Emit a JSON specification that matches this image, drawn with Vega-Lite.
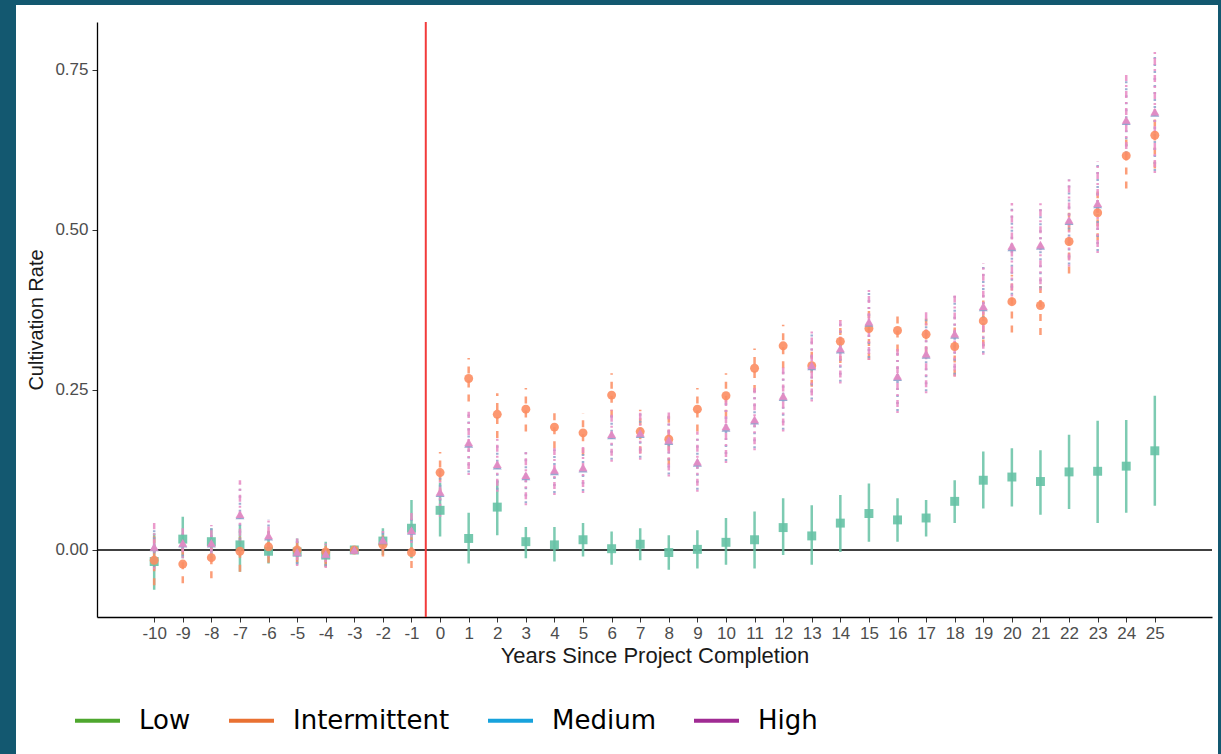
{
  "$schema": "https://vega.github.io/schema/vega-lite/v6.json",
  "width": 1202,
  "height": 749,
  "autosize": {"type": "none"},
  "padding": {"left": 16, "top": 5, "right": 3, "bottom": 0},
  "background": "#135870",
  "config": {
    "view": {"fill": "white", "stroke": null},
    "axis": {"grid": false, "domainColor": "black", "domainWidth": 1.3, "tickColor": "#333333", "tickSize": 5, "labelFont": "Liberation Sans", "labelFontSize": 17, "labelColor": "#4d4d4d", "titleFont": "Liberation Sans", "titleFontWeight": "normal", "titleColor": "#1a1a1a", "labelOverlap": false, "labelFlush": false},
    "axisX": {"labelOverlap": false},
    "axisQuantitative": {"labelOverlap": false},
    "legend": {
      "orient": "none", "legendX": 57, "legendY": 691, "direction": "horizontal", "title": null,
      "symbolType": "stroke", "symbolSize": 2025, "symbolStrokeWidth": 4, "symbolOpacity": 1,
      "labelFont": "DejaVu Sans", "labelFontSize": 26, "labelColor": "black", "labelOffset": 17, "columnPadding": 30
    }
  },
  "datasets": {
    "est": [
      {"year":-10,"group":"Low","est":-0.018,"lo":-0.062,"hi":0.026},
      {"year":-9,"group":"Low","est":0.017,"lo":-0.013,"hi":0.052},
      {"year":-8,"group":"Low","est":0.013,"lo":-0.013,"hi":0.034},
      {"year":-7,"group":"Low","est":0.008,"lo":-0.034,"hi":0.039},
      {"year":-6,"group":"Low","est":-0.002,"lo":-0.021,"hi":0.018},
      {"year":-5,"group":"Low","est":-0.003,"lo":-0.023,"hi":0.018},
      {"year":-4,"group":"Low","est":-0.008,"lo":-0.026,"hi":0.013},
      {"year":-3,"group":"Low","est":0.0,"lo":-0.005,"hi":0.005},
      {"year":-2,"group":"Low","est":0.014,"lo":-0.008,"hi":0.034},
      {"year":-1,"group":"Low","est":0.034,"lo":-0.013,"hi":0.078},
      {"year":0,"group":"Low","est":0.062,"lo":0.021,"hi":0.105},
      {"year":1,"group":"Low","est":0.018,"lo":-0.021,"hi":0.058},
      {"year":2,"group":"Low","est":0.067,"lo":0.023,"hi":0.109},
      {"year":3,"group":"Low","est":0.013,"lo":-0.013,"hi":0.036},
      {"year":4,"group":"Low","est":0.008,"lo":-0.018,"hi":0.036},
      {"year":5,"group":"Low","est":0.016,"lo":-0.01,"hi":0.042},
      {"year":6,"group":"Low","est":0.002,"lo":-0.023,"hi":0.029},
      {"year":7,"group":"Low","est":0.009,"lo":-0.016,"hi":0.034},
      {"year":8,"group":"Low","est":-0.004,"lo":-0.031,"hi":0.023},
      {"year":9,"group":"Low","est":0.001,"lo":-0.029,"hi":0.031},
      {"year":10,"group":"Low","est":0.012,"lo":-0.023,"hi":0.05},
      {"year":11,"group":"Low","est":0.016,"lo":-0.029,"hi":0.06},
      {"year":12,"group":"Low","est":0.035,"lo":-0.008,"hi":0.081},
      {"year":13,"group":"Low","est":0.022,"lo":-0.023,"hi":0.07},
      {"year":14,"group":"Low","est":0.042,"lo":-0.003,"hi":0.086},
      {"year":15,"group":"Low","est":0.057,"lo":0.013,"hi":0.104},
      {"year":16,"group":"Low","est":0.047,"lo":0.013,"hi":0.081},
      {"year":17,"group":"Low","est":0.05,"lo":0.021,"hi":0.078},
      {"year":18,"group":"Low","est":0.076,"lo":0.042,"hi":0.109},
      {"year":19,"group":"Low","est":0.109,"lo":0.065,"hi":0.154},
      {"year":20,"group":"Low","est":0.114,"lo":0.068,"hi":0.159},
      {"year":21,"group":"Low","est":0.107,"lo":0.055,"hi":0.156},
      {"year":22,"group":"Low","est":0.122,"lo":0.064,"hi":0.18},
      {"year":23,"group":"Low","est":0.123,"lo":0.042,"hi":0.202},
      {"year":24,"group":"Low","est":0.131,"lo":0.058,"hi":0.203},
      {"year":25,"group":"Low","est":0.155,"lo":0.069,"hi":0.241},
      {"year":-10,"group":"Intermittent","est":-0.016,"lo":-0.055,"hi":0.022},
      {"year":-9,"group":"Intermittent","est":-0.022,"lo":-0.052,"hi":0.008},
      {"year":-8,"group":"Intermittent","est":-0.012,"lo":-0.044,"hi":0.018},
      {"year":-7,"group":"Intermittent","est":-0.002,"lo":-0.034,"hi":0.031},
      {"year":-6,"group":"Intermittent","est":0.005,"lo":-0.02,"hi":0.03},
      {"year":-5,"group":"Intermittent","est":0.0,"lo":-0.02,"hi":0.02},
      {"year":-4,"group":"Intermittent","est":-0.003,"lo":-0.026,"hi":0.013},
      {"year":-3,"group":"Intermittent","est":0.0,"lo":-0.004,"hi":0.004},
      {"year":-2,"group":"Intermittent","est":0.008,"lo":-0.01,"hi":0.025},
      {"year":-1,"group":"Intermittent","est":-0.004,"lo":-0.028,"hi":0.02},
      {"year":0,"group":"Intermittent","est":0.121,"lo":0.085,"hi":0.153},
      {"year":1,"group":"Intermittent","est":0.268,"lo":0.232,"hi":0.3},
      {"year":2,"group":"Intermittent","est":0.212,"lo":0.175,"hi":0.245},
      {"year":3,"group":"Intermittent","est":0.22,"lo":0.185,"hi":0.253},
      {"year":4,"group":"Intermittent","est":0.192,"lo":0.159,"hi":0.224},
      {"year":5,"group":"Intermittent","est":0.183,"lo":0.148,"hi":0.214},
      {"year":6,"group":"Intermittent","est":0.242,"lo":0.208,"hi":0.276},
      {"year":7,"group":"Intermittent","est":0.185,"lo":0.151,"hi":0.219},
      {"year":8,"group":"Intermittent","est":0.173,"lo":0.133,"hi":0.216},
      {"year":9,"group":"Intermittent","est":0.22,"lo":0.185,"hi":0.253},
      {"year":10,"group":"Intermittent","est":0.241,"lo":0.208,"hi":0.276},
      {"year":11,"group":"Intermittent","est":0.284,"lo":0.247,"hi":0.315},
      {"year":12,"group":"Intermittent","est":0.319,"lo":0.284,"hi":0.352},
      {"year":13,"group":"Intermittent","est":0.288,"lo":0.255,"hi":0.32},
      {"year":14,"group":"Intermittent","est":0.326,"lo":0.292,"hi":0.359},
      {"year":15,"group":"Intermittent","est":0.346,"lo":0.297,"hi":0.378},
      {"year":16,"group":"Intermittent","est":0.343,"lo":0.31,"hi":0.372},
      {"year":17,"group":"Intermittent","est":0.337,"lo":0.307,"hi":0.37},
      {"year":18,"group":"Intermittent","est":0.318,"lo":0.271,"hi":0.352},
      {"year":19,"group":"Intermittent","est":0.358,"lo":0.318,"hi":0.39},
      {"year":20,"group":"Intermittent","est":0.388,"lo":0.34,"hi":0.43},
      {"year":21,"group":"Intermittent","est":0.382,"lo":0.336,"hi":0.42},
      {"year":22,"group":"Intermittent","est":0.482,"lo":0.432,"hi":0.527},
      {"year":23,"group":"Intermittent","est":0.527,"lo":0.484,"hi":0.56},
      {"year":24,"group":"Intermittent","est":0.616,"lo":0.565,"hi":0.646},
      {"year":25,"group":"Intermittent","est":0.648,"lo":0.596,"hi":0.677},
      {"year":-10,"group":"Medium","est":0.004,"lo":-0.027,"hi":0.038},
      {"year":-9,"group":"Medium","est":0.01,"lo":-0.01,"hi":0.033},
      {"year":-8,"group":"Medium","est":0.01,"lo":-0.013,"hi":0.036},
      {"year":-7,"group":"Medium","est":0.054,"lo":0.016,"hi":0.104},
      {"year":-6,"group":"Medium","est":0.021,"lo":-0.007,"hi":0.048},
      {"year":-5,"group":"Medium","est":-0.004,"lo":-0.022,"hi":0.015},
      {"year":-4,"group":"Medium","est":-0.007,"lo":-0.025,"hi":0.008},
      {"year":-3,"group":"Medium","est":0.0,"lo":-0.004,"hi":0.004},
      {"year":-2,"group":"Medium","est":0.015,"lo":0.002,"hi":0.028},
      {"year":-1,"group":"Medium","est":0.03,"lo":0.013,"hi":0.056},
      {"year":0,"group":"Medium","est":0.089,"lo":0.055,"hi":0.126},
      {"year":1,"group":"Medium","est":0.166,"lo":0.121,"hi":0.212},
      {"year":2,"group":"Medium","est":0.132,"lo":0.094,"hi":0.171},
      {"year":3,"group":"Medium","est":0.115,"lo":0.073,"hi":0.155},
      {"year":4,"group":"Medium","est":0.123,"lo":0.089,"hi":0.157},
      {"year":5,"group":"Medium","est":0.127,"lo":0.092,"hi":0.158},
      {"year":6,"group":"Medium","est":0.179,"lo":0.141,"hi":0.215},
      {"year":7,"group":"Medium","est":0.181,"lo":0.144,"hi":0.215},
      {"year":8,"group":"Medium","est":0.17,"lo":0.118,"hi":0.212},
      {"year":9,"group":"Medium","est":0.136,"lo":0.094,"hi":0.181},
      {"year":10,"group":"Medium","est":0.191,"lo":0.139,"hi":0.236},
      {"year":11,"group":"Medium","est":0.202,"lo":0.159,"hi":0.249},
      {"year":12,"group":"Medium","est":0.239,"lo":0.188,"hi":0.285},
      {"year":13,"group":"Medium","est":0.287,"lo":0.235,"hi":0.34},
      {"year":14,"group":"Medium","est":0.313,"lo":0.263,"hi":0.355},
      {"year":15,"group":"Medium","est":0.355,"lo":0.3,"hi":0.407},
      {"year":16,"group":"Medium","est":0.27,"lo":0.217,"hi":0.311},
      {"year":17,"group":"Medium","est":0.305,"lo":0.248,"hi":0.368},
      {"year":18,"group":"Medium","est":0.336,"lo":0.274,"hi":0.397},
      {"year":19,"group":"Medium","est":0.379,"lo":0.308,"hi":0.444},
      {"year":20,"group":"Medium","est":0.473,"lo":0.399,"hi":0.538},
      {"year":21,"group":"Medium","est":0.475,"lo":0.409,"hi":0.54},
      {"year":22,"group":"Medium","est":0.514,"lo":0.446,"hi":0.579},
      {"year":23,"group":"Medium","est":0.54,"lo":0.467,"hi":0.603},
      {"year":24,"group":"Medium","est":0.67,"lo":0.62,"hi":0.738},
      {"year":25,"group":"Medium","est":0.683,"lo":0.592,"hi":0.777},
      {"year":-10,"group":"High","est":0.005,"lo":-0.03,"hi":0.042},
      {"year":-9,"group":"High","est":0.011,"lo":-0.013,"hi":0.036},
      {"year":-8,"group":"High","est":0.011,"lo":-0.016,"hi":0.039},
      {"year":-7,"group":"High","est":0.056,"lo":0.013,"hi":0.109},
      {"year":-6,"group":"High","est":0.023,"lo":-0.01,"hi":0.052},
      {"year":-5,"group":"High","est":-0.003,"lo":-0.025,"hi":0.018},
      {"year":-4,"group":"High","est":-0.006,"lo":-0.028,"hi":0.01},
      {"year":-3,"group":"High","est":0.0,"lo":-0.005,"hi":0.005},
      {"year":-2,"group":"High","est":0.016,"lo":0.0,"hi":0.03},
      {"year":-1,"group":"High","est":0.031,"lo":0.011,"hi":0.06},
      {"year":0,"group":"High","est":0.091,"lo":0.052,"hi":0.13},
      {"year":1,"group":"High","est":0.168,"lo":0.117,"hi":0.216},
      {"year":2,"group":"High","est":0.134,"lo":0.091,"hi":0.175},
      {"year":3,"group":"High","est":0.117,"lo":0.07,"hi":0.159},
      {"year":4,"group":"High","est":0.125,"lo":0.086,"hi":0.161},
      {"year":5,"group":"High","est":0.129,"lo":0.089,"hi":0.161},
      {"year":6,"group":"High","est":0.181,"lo":0.138,"hi":0.219},
      {"year":7,"group":"High","est":0.183,"lo":0.141,"hi":0.219},
      {"year":8,"group":"High","est":0.172,"lo":0.115,"hi":0.216},
      {"year":9,"group":"High","est":0.138,"lo":0.091,"hi":0.185},
      {"year":10,"group":"High","est":0.193,"lo":0.136,"hi":0.24},
      {"year":11,"group":"High","est":0.204,"lo":0.156,"hi":0.253},
      {"year":12,"group":"High","est":0.241,"lo":0.185,"hi":0.289},
      {"year":13,"group":"High","est":0.289,"lo":0.232,"hi":0.344},
      {"year":14,"group":"High","est":0.315,"lo":0.26,"hi":0.359},
      {"year":15,"group":"High","est":0.357,"lo":0.297,"hi":0.411},
      {"year":16,"group":"High","est":0.272,"lo":0.214,"hi":0.315},
      {"year":17,"group":"High","est":0.307,"lo":0.245,"hi":0.372},
      {"year":18,"group":"High","est":0.338,"lo":0.271,"hi":0.401},
      {"year":19,"group":"High","est":0.381,"lo":0.305,"hi":0.448},
      {"year":20,"group":"High","est":0.475,"lo":0.396,"hi":0.542},
      {"year":21,"group":"High","est":0.477,"lo":0.406,"hi":0.544},
      {"year":22,"group":"High","est":0.516,"lo":0.443,"hi":0.583},
      {"year":23,"group":"High","est":0.542,"lo":0.464,"hi":0.607},
      {"year":24,"group":"High","est":0.672,"lo":0.617,"hi":0.742},
      {"year":25,"group":"High","est":0.685,"lo":0.589,"hi":0.781}
    ]
  },
  "layer": [
    {
      "data": {"values": [{}]},
      "mark": {"type": "rule", "color": "black", "strokeWidth": 1.3},
      "encoding": {
        "y": {"datum": 0, "type": "quantitative"},
        "x": {"datum": -12, "type": "quantitative"},
        "x2": {"datum": 27}
      }
    },
    {
      "data": {"values": [{}]},
      "mark": {"type": "rule", "color": "#f23b3b", "strokeWidth": 2},
      "encoding": {
        "x": {"datum": -0.5, "type": "quantitative"},
        "y": {"datum": -0.1047, "type": "quantitative"},
        "y2": {"datum": 0.825}
      }
    },
    {
      "data": {"name": "est"},
      "encoding": {
        "x": {"field": "year", "type": "quantitative", "title": "Years Since Project Completion",
              "scale": {"domain": [-12, 27], "range": [81, 1196], "nice": false, "zero": false},
              "axis": {"values": [-10,-9,-8,-7,-6,-5,-4,-3,-2,-1,0,1,2,3,4,5,6,7,8,9,10,11,12,13,14,15,16,17,18,19,20,21,22,23,24,25],
                       "tickCount": 36, "labelExpr": "replace(datum.label, '\u2212', '-')", "labelOverlap": false, "labelFlush": false, "labelBound": false,
                       "offset": -137, "titleFontSize": 22, "titlePadding": 4, "labelPadding": 3}},
        "xOffset": {"field": "group", "type": "nominal",
                    "scale": {"type": "point", "padding": 0, "domain": ["Low", "Intermittent", "Medium", "High"], "range": [-3.5, 3.5]}}
      },
      "layer": [
        {
          "mark": {"type": "rule", "strokeWidth": 2.5, "opacity": 0.85},
          "encoding": {
            "y": {"field": "lo", "type": "quantitative", "title": "Cultivation Rate",
                  "scale": {"domain": [-0.1047, 0.825], "range": [612, 17], "nice": false, "zero": false},
                  "axis": {"values": [0, 0.25, 0.5, 0.75], "format": ".2f", "offset": -81, "titleFontSize": 20, "titlePadding": 8, "labelPadding": 4, "labelOverlap": false}},
            "y2": {"field": "hi"},
            "color": {"field": "group", "type": "nominal",
                      "scale": {"domain": ["High", "Medium", "Intermittent", "Low"], "range": ["#e78ac3", "#8da0cb", "#fc8d62", "#66c2a5"]},
                      "legend": null},
            "strokeDash": {"field": "group", "type": "nominal",
                           "scale": {"domain": ["High", "Medium", "Intermittent", "Low"], "range": [[2, 4, 7, 4], [2, 5], [7, 7], [1, 0]]},
                           "legend": null}
          }
        },
        {
          "mark": {"type": "point", "filled": true, "size": 80, "opacity": 0.9},
          "encoding": {
            "y": {"field": "est", "type": "quantitative", "title": "Cultivation Rate"},
            "color": {"field": "group", "type": "nominal", "legend": null},
            "shape": {"field": "group", "type": "nominal",
                      "scale": {"domain": ["High", "Medium", "Intermittent", "Low"], "range": ["triangle-up", "triangle-up", "circle", "square"]},
                      "legend": null}
          }
        },
        {
          "mark": {"type": "rule", "strokeWidth": 4},
          "encoding": {
            "y": {"field": "est", "type": "quantitative", "title": "Cultivation Rate"},
            "y2": {"field": "est"},
            "stroke": {"field": "group", "type": "nominal",
                       "scale": {"domain": ["Low", "Intermittent", "Medium", "High"], "range": ["#4ea72e", "#e97132", "#17a2dc", "#a02b93"]},
                       "legend": {"symbolType": "stroke", "symbolSize": 2025, "symbolStrokeWidth": 4}}
          }
        }
      ]
    }
  ]
}
